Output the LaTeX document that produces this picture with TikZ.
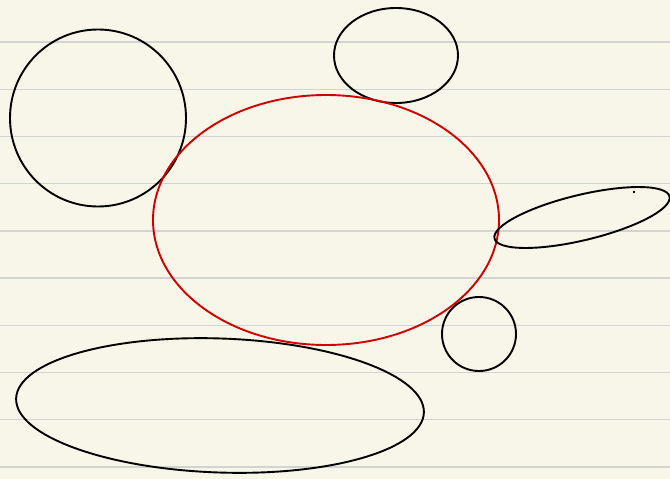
\documentclass[tikz,border=0pt]{standalone}
\definecolor{paper}{HTML}{F8F6E8}
\definecolor{rule}{HTML}{D2D4D4}
\definecolor{redline}{HTML}{D40000}
\begin{document}
\begin{tikzpicture}[x=1pt,y=-1pt,
  blackoutline/.style={draw=black,line width=1.9pt},
  redoutline/.style={draw=redline,line width=1.9pt},
  ruleline/.style={draw=rule,line width=1.4pt}]
\fill[paper] (0,0) rectangle (670,479);
\useasboundingbox (0,0) rectangle (670,479);
\foreach \y in {42,89.2,136.4,183.6,230.8,278,325.2,372.4,419.6,466.8}
  \draw[ruleline] (0,\y) -- (670,\y);
\draw[blackoutline] (98,118) ellipse [x radius=88, y radius=88.5];
\draw[blackoutline] (396,55.5) ellipse [x radius=62, y radius=47.5];
\draw[redoutline] (326,220) ellipse [x radius=173, y radius=125];
\draw[blackoutline] (479,334) circle [radius=37];
\draw[blackoutline] (220,405.5) ellipse [x radius=204, y radius=67, rotate=-2];
\draw[blackoutline] (582,217.5) ellipse [x radius=90, y radius=22.7, rotate=13.5];
\fill (634,192) circle [radius=1.3];
\end{tikzpicture}
\end{document}
